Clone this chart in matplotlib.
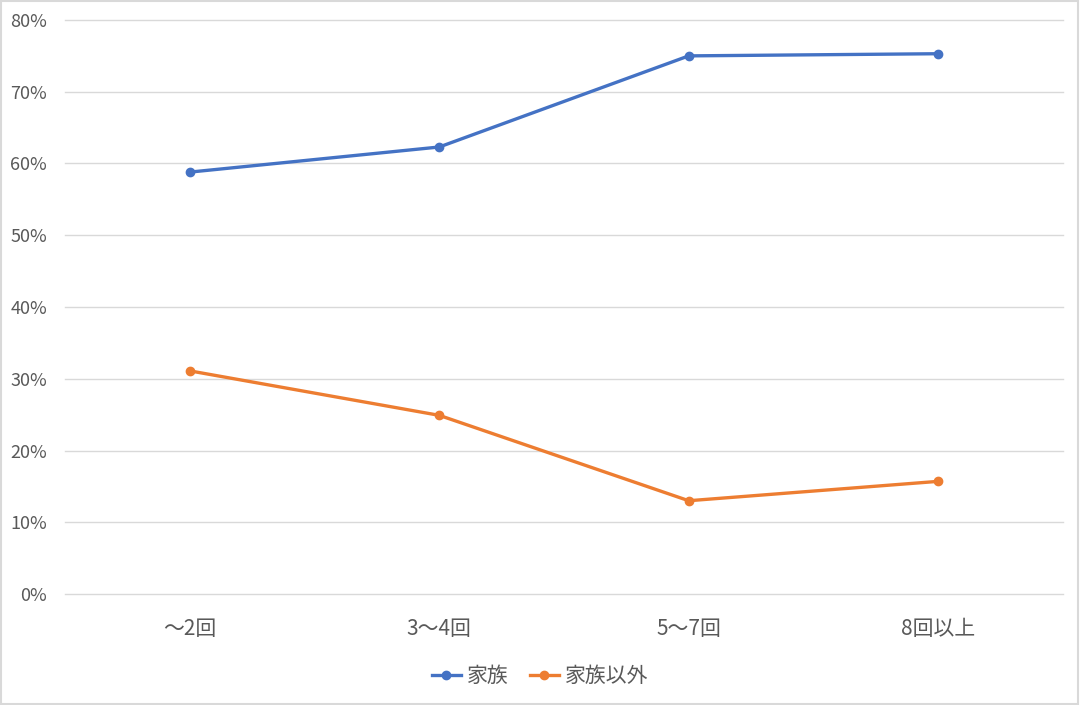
import matplotlib.pyplot as plt
from matplotlib.patches import Rectangle
from matplotlib.ticker import PercentFormatter

plt.rcParams['font.family'] = ['Noto Sans CJK JP', 'DejaVu Sans']

categories = ["～2回", "3～4回", "5～7回", "8回以上"]
family = [58.8, 62.3, 75.0, 75.3]
non_family = [31.1, 24.9, 13.0, 15.7]

fig = plt.figure(figsize=(10.8, 7.05), dpi=100)
ax = fig.add_axes([65 / 1080, 111 / 705, 998 / 1080, 574 / 705])

x = range(len(categories))
ax.plot(x, family, color="#4472C4", lw=2.4, marker="o", ms=6, label="家族")
ax.plot(x, non_family, color="#ED7D31", lw=2.4, marker="o", ms=6, label="家族以外")

ax.set_xlim(-0.5, 3.5)
ax.set_ylim(0, 80)
ax.set_yticks(range(0, 81, 10))
ax.yaxis.set_major_formatter(PercentFormatter(decimals=0))
ax.set_xticks(list(x))
ax.set_xticklabels(categories)
ax.grid(axis="y", color="#D9D9D9", lw=1)
for gl in ax.get_ygridlines():
    gl.set_clip_on(False)
ax.set_axisbelow(True)
for s in ax.spines.values():
    s.set_visible(False)
ax.tick_params(length=0, labelcolor="#595959")
ax.tick_params(axis="y", labelsize=13, pad=13)
ax.tick_params(axis="x", labelsize=15, pad=17)

fig.legend(loc="center", bbox_to_anchor=(0.5, 29 / 705), ncol=2, frameon=False,
           fontsize=15, labelcolor="#595959", handlelength=1.4,
           handletextpad=0.3, columnspacing=1.0)

# light frame around the chart
fig.patches.append(Rectangle((0.001, 0.001), 0.997, 0.997, transform=fig.transFigure,
                             fill=False, edgecolor="#D9D9D9", lw=1.5))

fig.savefig("out.png", dpi=100)
